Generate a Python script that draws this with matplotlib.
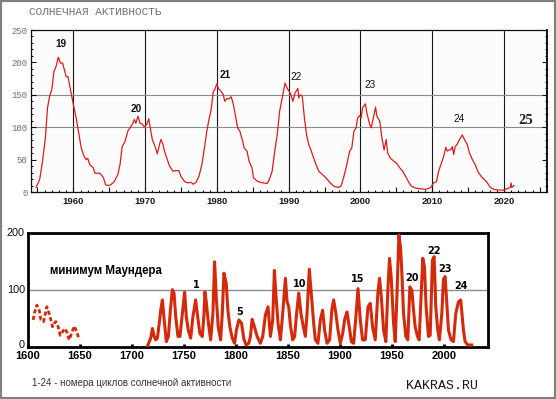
"""Solar activity: recent cycles (top) and sunspot record since 1600 (bottom)."""

import matplotlib
matplotlib.use('Agg')
import matplotlib.pyplot as plt
from matplotlib.patches import Rectangle
from matplotlib.ticker import MultipleLocator, FuncFormatter

# top panel: cycles 19-24
TOP_YEARS = [1954.8, 1955.3, 1955.7, 1956.1, 1956.4, 1956.7, 1957.0, 1957.3, 1957.6, 1957.9,
             1958.2, 1958.5, 1958.8, 1959.0, 1959.25, 1959.6, 1960.0, 1960.4, 1960.7, 1961.1,
             1961.5, 1961.8, 1962.0, 1962.3, 1962.8, 1963.0, 1963.7, 1964.2, 1964.5, 1964.9,
             1965.2, 1965.7, 1966.2, 1966.5, 1966.8, 1967.2, 1967.6, 1967.9, 1968.2, 1968.5,
             1968.7, 1969.0, 1969.3, 1969.6, 1969.9, 1970.2, 1970.5, 1970.7, 1971.0, 1971.4,
             1971.7, 1972.0, 1972.2, 1972.5, 1972.7, 1973.1, 1973.4, 1973.9, 1974.3, 1974.7,
             1975.0, 1975.5, 1976.0, 1976.4, 1976.7, 1977.1, 1977.5, 1977.9, 1978.2, 1978.6,
             1978.9, 1979.2, 1979.5, 1979.7, 1980.0, 1980.2, 1980.6, 1980.9, 1981.1, 1981.4,
             1981.7, 1982.0, 1982.3, 1982.6, 1982.9, 1983.2, 1983.6, 1983.8, 1984.2, 1984.5,
             1984.9, 1985.1, 1985.6, 1986.0, 1986.5, 1987.0, 1987.3, 1987.7, 1988.0, 1988.4,
             1988.75, 1989.1, 1989.5, 1989.8, 1990.2, 1990.6, 1990.9, 1991.3, 1991.4, 1991.6,
             1991.9, 1992.2, 1992.5, 1992.8, 1993.1, 1993.5, 1993.9, 1994.2, 1994.7, 1995.2,
             1995.8, 1996.3, 1996.9, 1997.3, 1997.7, 1998.0, 1998.5, 1998.8, 1999.1, 1999.4,
             1999.6, 1999.9, 2000.1, 2000.3, 2000.7, 2000.9, 2001.3, 2001.5, 2001.9, 2002.1,
             2002.3, 2002.7, 2003.0, 2003.3, 2003.6, 2003.8, 2004.2, 2004.7, 2005.0, 2005.5,
             2005.9, 2006.4, 2006.8, 2007.1, 2007.7, 2008.4, 2009.1, 2009.8, 2010.2, 2010.6,
             2010.9, 2011.3, 2011.6, 2011.9, 2012.1, 2012.3, 2012.6, 2012.8, 2013.0, 2013.2,
             2013.5, 2013.8, 2014.2, 2014.5, 2014.9, 2015.2, 2015.6, 2016.0, 2016.4, 2016.9,
             2017.3, 2017.7, 2018.1, 2018.6, 2019.3, 2020.0, 2020.4, 2020.9, 2021.0, 2021.1,
             2021.4]
TOP_VALUES = [7, 19, 47, 83, 130, 148, 158, 186, 194, 208,
              199, 199, 186, 178, 178, 158, 135, 114, 94, 68,
              55, 50, 52, 42, 37, 29, 29, 22, 11, 10,
              11, 16, 27, 42, 70, 78, 94, 99, 104, 112,
              106, 117, 106, 105, 100, 104, 113, 100, 81, 70,
              59, 73, 81, 73, 63, 50, 40, 32, 33, 33,
              24, 16, 14, 15, 12, 15, 24, 42, 63, 94,
              112, 127, 155, 158, 167, 160, 155, 150, 140, 144,
              144, 147, 135, 117, 99, 94, 78, 68, 63, 47,
              37, 22, 17, 15, 14, 13, 19, 32, 58, 88,
              125, 145, 168, 160, 153, 140, 153, 160, 145, 150,
              148, 114, 88, 73, 65, 52, 40, 32, 27, 22,
              14, 9, 7, 9, 24, 37, 63, 68, 94, 99,
              114, 118, 114, 130, 136, 122, 104, 99, 119, 131,
              117, 109, 83, 65, 81, 60, 52, 47, 45, 37,
              32, 22, 14, 9, 6, 5, 4, 7, 14, 16,
              32, 45, 55, 69, 63, 65, 65, 70, 58, 70,
              74, 81, 88, 81, 73, 60, 50, 42, 31, 23,
              19, 14, 7, 4, 3, 3, 5, 7, 14, 7,
              10]
TOP_CYCLES = ['19', '20', '21', '22', '23', '24', '25']
TOP_CYCLE_X = [1958.3, 1968.8, 1981.1, 1991.0, 2001.4, 2013.7, 2023.0]
TOP_CYCLE_Y = [228, 128, 180, 177, 165, 112, 111]

# bottom panel: early telescope observations (dashed) and the record since 1715
EARLY_YEARS = [1605.3, 1606.3, 1608.8, 1611.1, 1612.7, 1615.2, 1616.8, 1618.4, 1620.7, 1622.3,
               1623.9, 1625.5, 1627.1, 1629.3, 1631.2, 1633.5, 1635.7, 1637.6, 1639.9, 1642.1,
               1644.7, 1647.3, 1649.5]
EARLY_VALUES = [47, 58, 73, 64, 47, 44, 56, 70, 58, 47,
                35, 41, 44, 35, 20, 26, 32, 26, 12, 23,
                36, 26, 12]
RECORD_YEARS = [1715.1, 1718.3, 1719.9, 1721.5, 1723.1, 1724.7, 1726.9, 1727.9, 1729.5, 1731.1,
                1733.3, 1735.3, 1737.2, 1739.1, 1740.7, 1742.3, 1744.5, 1746.4, 1748.7, 1750.9,
                1752.5, 1754.4, 1756.7, 1758.9, 1761.5, 1763.4, 1765.6, 1767.9, 1769.5, 1770.4,
                1771.7, 1773.6, 1775.9, 1778.1, 1779.7, 1781.3, 1783.2, 1785.5, 1787.1, 1788.7,
                1790.9, 1792.5, 1794.4, 1796.7, 1798.9, 1800.8, 1803.1, 1805.6, 1807.8, 1810.0,
                1812.6, 1814.2, 1815.8, 1818.0, 1820.6, 1823.8, 1826.0, 1828.6, 1831.1, 1833.4,
                1835.6, 1837.2, 1838.8, 1840.7, 1843.0, 1845.2, 1847.8, 1849.4, 1851.0, 1852.6,
                1854.8, 1856.7, 1858.3, 1860.6, 1862.8, 1864.7, 1867.0, 1868.6, 1870.8, 1872.7,
                1875.0, 1876.6, 1879.1, 1881.4, 1883.6, 1885.5, 1887.8, 1890.3, 1892.6, 1894.2,
                1896.2, 1898.3, 1900.6, 1902.8, 1904.8, 1907.0, 1909.2, 1911.2, 1913.4, 1915.6,
                1917.6, 1919.8, 1922.0, 1924.6, 1927.2, 1929.4, 1931.6, 1934.2, 1936.7, 1938.3,
                1940.0, 1942.2, 1944.4, 1946.3, 1947.9, 1949.5, 1951.8, 1953.4, 1955.0, 1956.9,
                1958.5, 1959.8, 1961.4, 1963.6, 1965.5, 1967.5, 1969.4, 1971.0, 1972.6, 1974.8,
                1976.4, 1978.3, 1979.9, 1981.5, 1983.1, 1985.4, 1987.0, 1989.2, 1990.8, 1992.4,
                1994.3, 1995.9, 1998.2, 1999.8, 2001.4, 2003.0, 2004.6, 2007.1, 2009.4, 2011.6,
                2014.2, 2016.4, 2019.0, 2020.6, 2023.1, 2027.0]
RECORD_VALUES = [1, 15, 32, 19, 12, 15, 47, 64, 82, 50,
                 9, 18, 64, 100, 94, 53, 18, 18, 58, 96,
                 53, 29, 15, 53, 82, 53, 23, 18, 56, 96,
                 79, 44, 12, 58, 149, 88, 35, 12, 58, 129,
                 111, 64, 35, 15, 6, 30, 47, 41, 14, 3,
                 6, 18, 48, 35, 18, 6, 18, 56, 70, 18,
                 47, 134, 88, 41, 12, 58, 120, 79, 70, 38,
                 12, 18, 53, 94, 58, 38, 18, 58, 136, 94,
                 41, 12, 6, 47, 64, 29, 6, 12, 67, 82,
                 60, 30, 6, 22, 48, 61, 35, 9, 6, 53,
                 102, 47, 12, 12, 70, 76, 35, 12, 94, 120,
                 88, 29, 9, 99, 155, 123, 41, 9, 88, 196,
                 175, 129, 58, 18, 12, 105, 99, 64, 35, 18,
                 12, 88, 155, 140, 70, 18, 20, 152, 158, 70,
                 29, 12, 58, 118, 123, 76, 29, 12, 9, 58,
                 79, 82, 29, 9, 3, 3]
CYCLES = ['1', '5', '10', '15', '20', '22', '23', '24']
CYCLE_X = [1762.1, 1803.7, 1861.2, 1917.6, 1969.4, 1991.1, 2001.4, 2016.7]
CYCLE_Y = [108, 61, 110, 118, 121, 168, 137, 107]
RECORD_TICKS = [0, 100, 200]

W, H = 556.0, 399.0
MONO = 'Liberation Mono'
SANS = 'Liberation Sans'


def box(left, top, right, bottom):
    # pixel box -> figure fraction rect
    return [left / W, 1 - bottom / H, (right - left) / W, (bottom - top) / H]


def plot_recent(fig):
    ax = fig.add_axes(box(31, 30, 547, 192))
    ax.set_xlim(1954.1, 2026.0)
    ax.set_ylim(0, 250)

    for year in range(1960, 2030, 10):
        ax.axvline(year, color='#1a1a1a', lw=0.8, zorder=1)
    for level in (100, 150):
        ax.axhline(level, color='#8c8c8c', lw=0.8, zorder=1)

    ax.plot(TOP_YEARS, TOP_VALUES, color='#dd1c1c', lw=0.9, zorder=3)

    for label, x, y in zip(TOP_CYCLES, TOP_CYCLE_X, TOP_CYCLE_Y):
        if label == '25':
            ax.text(x, y, label, ha='center', va='center', fontsize=10.5,
                    family='Liberation Serif', fontweight='bold', color='#222222')
        else:
            weight = 'bold' if label in ('19', '20', '21') else 'normal'
            ax.text(x, y, label, ha='center', va='center', fontsize=7.2,
                    family=SANS, fontweight=weight, color='#111111')

    ax.yaxis.set_major_locator(MultipleLocator(50))
    ax.yaxis.set_minor_locator(MultipleLocator(10))
    ax.xaxis.set_major_locator(MultipleLocator(5))
    ax.xaxis.set_minor_locator(MultipleLocator(1))
    ax.xaxis.set_major_formatter(FuncFormatter(
        lambda v, pos: '%d' % v if round(v) % 10 == 0 else ''))

    ax.tick_params(which='both', direction='in', right=True, color='#111111', width=0.8)
    ax.tick_params(which='major', length=3.5)
    ax.tick_params(which='minor', length=1.6)
    ax.tick_params(axis='y', labelsize=6.5, labelcolor='#707070', pad=2.5)
    ax.tick_params(axis='x', labelsize=6.8, labelcolor='#1a1a1a', pad=3.8)
    for lab in ax.get_yticklabels():
        lab.set_family(MONO)
    for lab in ax.get_xticklabels():
        lab.set_family(SANS)
        lab.set_fontweight('bold')

    for side in ax.spines.values():
        side.set_color('#111111')
        side.set_linewidth(0.9)
    ax.spines['right'].set_linewidth(1.4)
    ax.set_facecolor('#fcfcfc')


def plot_record(fig):
    ax = fig.add_axes(box(27.7, 232.7, 488.3, 346.7))
    ax.set_xlim(1600.8, 2042.9)
    ax.set_ylim(0, 200)

    ax.axhline(100, color='#8c8c8c', lw=1.0, zorder=1)
    ax.plot(EARLY_YEARS, EARLY_VALUES, color='#d42a0c', lw=2.0,
            linestyle=(0, (1.5, 0.9)), zorder=3)
    ax.plot(RECORD_YEARS, RECORD_VALUES, color='#d42a0c', lw=2.2, zorder=3)

    for label, x, y in zip(CYCLES, CYCLE_X, CYCLE_Y):
        ax.text(x, y, label, ha='center', va='center', fontsize=7,
                family='DejaVu Sans', fontweight='bold', color='#000000')
    ax.text(1674.8, 133, 'минимум Маундера', ha='center', va='center', fontsize=8.3,
            family=SANS, fontweight='bold', color='#000000')

    ax.set_xticks(range(1600, 2001, 50))
    ax.tick_params(axis='x', direction='in', length=2.2, width=2, color='#000000',
                   labelsize=8, pad=3.2)
    for lab in ax.get_xticklabels():
        lab.set_family(SANS)
        lab.set_fontweight('bold')

    # y labels sit just left of the frame, the zero one a little raised
    ax.set_yticks([])
    trans = ax.get_yaxis_transform()
    for level in RECORD_TICKS:
        y = level + 3 if level == 0 else level
        ax.text(-0.006, y, str(level), transform=trans, ha='right', va='center',
                fontsize=7.8, family=SANS, color='#111111')

    for side in ax.spines.values():
        side.set_color('#000000')
        side.set_linewidth(2)


def plot_chart():
    fig = plt.figure(figsize=(W / 100, H / 100), dpi=100)
    fig.patch.set_facecolor('white')

    plot_recent(fig)
    plot_record(fig)

    fig.text(29 / W, 1 - 12.3 / H, 'СОЛНЕЧНАЯ АКТИВНОСТЬ', ha='left', va='center',
             fontsize=7.9, family=MONO, color='#707070')
    fig.text(31.7 / W, 1 - 383.3 / H, '1-24 - номера циклов солнечной активности',
             ha='left', va='center', fontsize=7, family=SANS, color='#333333')
    fig.text(406 / W, 1 - 385.7 / H, 'KAKRAS.RU', ha='left', va='center',
             fontsize=9.5, family=MONO, color='#1a1a1a')

    # grey frame round the whole picture
    fig.patches.append(Rectangle((0, 0), 1, 1, transform=fig.transFigure, fill=False,
                                 edgecolor='#808080', lw=3))

    fig.savefig('out.png', dpi=100)


if __name__ == '__main__':
    plot_chart()
